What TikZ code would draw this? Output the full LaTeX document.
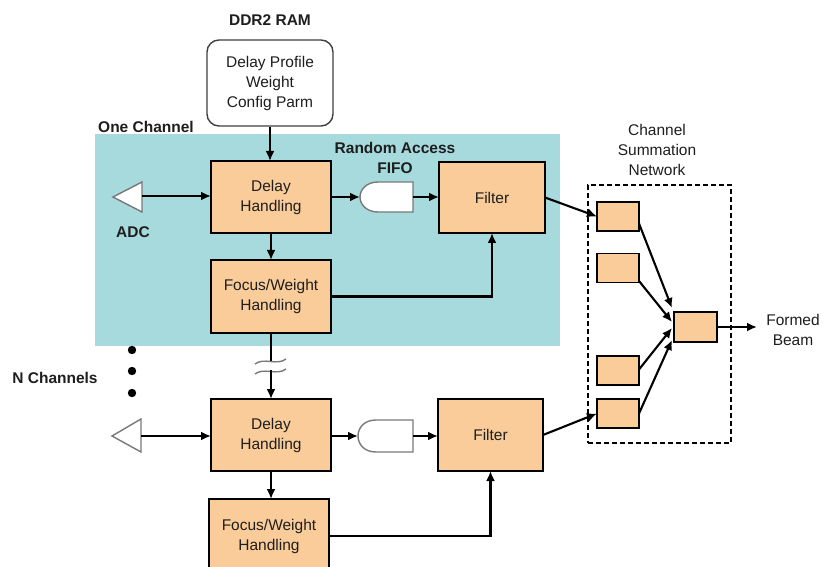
\documentclass[tikz,border=0pt]{standalone}
\usepackage{fontspec}
\setmainfont{Liberation Sans}
\usetikzlibrary{arrows.meta,calc}
\definecolor{boxfill}{RGB}{250,204,153}
\definecolor{chan}{RGB}{166,218,220}
\definecolor{txt}{RGB}{30,30,30}
\definecolor{gline}{RGB}{120,120,120}
\begin{document}
\begin{tikzpicture}[x=1pt,y=-1pt,
  box/.style={draw=black,line width=1.7pt,fill=boxfill,inner sep=0pt,outer sep=0pt,align=center,font=\fontsize{15.5}{20}\selectfont,text=txt},
  sbox/.style={draw=black,line width=1.7pt,fill=boxfill,minimum width=42pt,minimum height=29pt,inner sep=0pt,outer sep=0pt},
  lbl/.style={align=center,font=\fontsize{15.5}{20}\selectfont,text=txt,inner sep=0pt},
  blbl/.style={align=center,font=\fontsize{15.5}{20}\selectfont\bfseries,text=txt,inner sep=0pt},
  arr/.style={line width=2.1pt,-{Latex[length=10pt,width=9pt]}},
  ln/.style={line width=2.1pt},
  grayline/.style={draw=gline,line width=1.4pt,fill=white}
]
\useasboundingbox (0,0) rectangle (823,567);
\fill[chan] (95,134) rectangle (560,346);

% top
\node[blbl] (ddr) at (270,20) {DDR2 RAM};
\node[draw=black!75,line width=1.4pt,rounded corners=12pt,fill=white,minimum width=126pt,minimum height=86pt,lbl] (ram) at (270,83) {Delay Profile\\Weight\\Config Parm};
\node[blbl,anchor=west] (one) at (98,127) {One Channel};
\node[blbl] (rafifo) at (395,158) {Random Access\\FIFO};

% channel 1
\node[box,minimum width=120pt,minimum height=72pt] (d1) at (271,197) {Delay\\Handling};
\node[box,minimum width=120pt,minimum height=73pt] (f1) at (271,296.5) {Focus/Weight\\Handling};
\node[box,minimum width=106pt,minimum height=71pt] (fl1) at (492,197.5) {Filter};
\draw[grayline] (113,197) -- (142,182) -- (142,212) -- cycle;
\coordinate (a1) at (142,196);
\node[blbl] (adc) at (133,232) {ADC};
\draw[grayline] (413,182) -- (378,182) .. controls (366,182) and (360,190) .. (360,197) .. controls (360,204) and (366,212) .. (378,212) -- (413,212) -- cycle;
\coordinate (g1i) at (360,197);
\coordinate (g1o) at (413,197);

\draw[arr] (a1) -- (a1 -| d1.west);
\draw[arr] (ram.south) -- (ram.south |- d1.north);
\draw[arr] (d1.east |- g1i) -- (g1i);
\draw[arr] (g1o) -- (g1o -| fl1.west);
\draw[arr] (d1.south) -- (f1.north);
\draw[arr] (f1.east) -- (f1.east -| fl1.south) -- (fl1.south);

% break
\coordinate (bk1) at (271,361);
\coordinate (bk2) at (271,370);
\draw[ln] (f1.south) -- (bk1);
\draw[gline,line width=1.4pt] (255,364) .. controls (264,357) and (277,366) .. (286,359);
\draw[gline,line width=1.4pt] (255,374) .. controls (264,367) and (277,376) .. (286,369);

% dots
\fill[black] (132,350) circle (4.2);
\fill[black] (132,371) circle (4.2);
\fill[black] (132,393) circle (4.2);
\node[blbl] (nch) at (55,378) {N Channels};

% channel 2
\node[box,minimum width=120pt,minimum height=72pt] (d2) at (271,435) {Delay\\Handling};
\draw[arr] (bk2) -- (d2.north);
\begin{scope}
\clip (0,0) rectangle (823,567);
\node[box,minimum width=120pt,minimum height=74pt] (f2) at (269,536) {Focus/Weight\\Handling};
\end{scope}
\node[box,minimum width=105pt,minimum height=72pt] (fl2) at (490.5,435) {Filter};
\draw[grayline] (112,436) -- (141,419) -- (141,452) -- cycle;
\coordinate (a2) at (141,436);
\draw[grayline] (413,420) -- (376,420) .. controls (364,420) and (358,428) .. (358,436) .. controls (358,444) and (364,452) .. (376,452) -- (413,452) -- cycle;
\coordinate (g2i) at (358,436);
\coordinate (g2o) at (413,436);

\draw[arr] (a2) -- (a2 -| d2.west);
\draw[arr] (d2.east |- g2i) -- (g2i);
\draw[arr] (g2o) -- (g2o -| fl2.west);
\draw[arr] (d2.south) -- (d2.south |- f2.north);
\draw[arr] (f2.east) -- (f2.east -| fl2.south) -- (fl2.south);

% summation network
\node[lbl] (csn) at (657,150) {Channel\\Summation\\Network};
\node[draw=black,dash pattern=on 5pt off 3pt,line width=1.5pt,minimum width=143pt,minimum height=258pt,inner sep=0pt] (net) at (659.5,314) {};
\node[sbox] (s1) at (618,216.5) {};
\node[sbox] (s2) at (618,268) {};
\node[sbox] (s3) at (618,370.5) {};
\node[sbox] (s4) at (618,413.5) {};
\node[sbox,minimum width=43pt,minimum height=30pt] (so) at (695.5,327) {};

\draw[arr] (fl1.east) -- (s1.west);
\draw[arr] (fl2.east) -- (s4.west);
\draw[arr] ($(s1.east)+(0,7)$) -- ($(so.north west)+(-2,-4)$);
\draw[arr] ($(s2.east)+(0,13)$) -- ($(so.west)+(-2,-5)$);
\draw[arr] ($(s3.east)+(0,-1)$) -- ($(so.west)+(-2,1)$);
\draw[arr] ($(s4.east)+(0,0)$) -- ($(so.south west)+(-2,-2)$);

\node[lbl] (fbm) at (793,330) {Formed\\Beam};
\coordinate (fbin) at (757,327);
\draw[arr] (so.east) -- (fbin);
\end{tikzpicture}
\end{document}
